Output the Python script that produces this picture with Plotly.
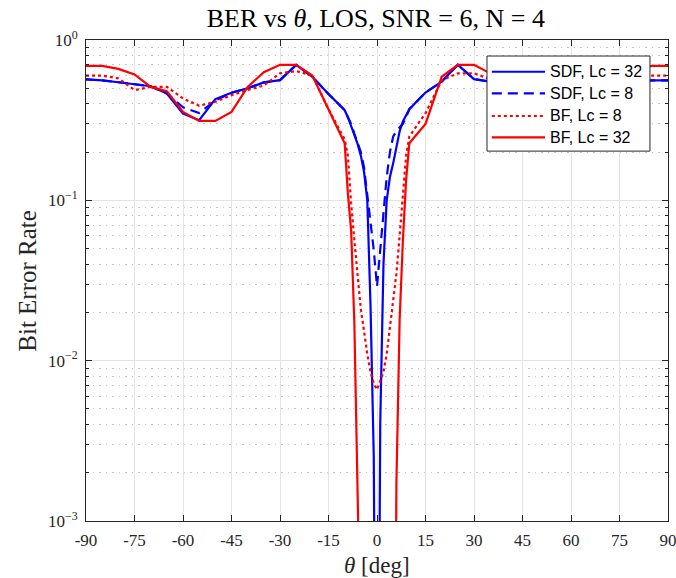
import plotly.graph_objects as go

# angle grid (deg): 5-deg steps away from broadside, 1-deg steps near 0
theta = [-90, -85, -80, -75, -70, -65, -60, -55, -50, -45, -40, -35, -30, -25, -20, -15,
         -10, -9, -8, -7, -6, -5, -4, -3, -2, -1, 0, 1, 2, 3, 4, 5, 6, 7, 8, 9, 10,
         15, 20, 25, 30, 35, 40, 45, 50, 55, 60, 65, 70, 75, 80, 85, 90]

sdf_lc32 = [0.568, 0.56, 0.545, 0.53, 0.515, 0.464, 0.348, 0.316, 0.428, 0.469, 0.50, 0.544, 0.562, 0.70, 0.59, 0.46,
            0.365, 0.33, 0.29, 0.26, 0.225, 0.19, 0.15, 0.10, 0.022, 0.0025, 1e-6, 0.004, 0.04, 0.10, 0.14, 0.17, 0.22, 0.27, 0.31, 0.34, 0.37,
            0.47, 0.55, 0.70, 0.57, 0.55, 0.53, 0.47, 0.43, 0.32, 0.35, 0.46, 0.52, 0.53, 0.55, 0.56, 0.56]

sdf_lc8 = [0.568, 0.56, 0.545, 0.53, 0.515, 0.464, 0.38, 0.35, 0.42, 0.469, 0.50, 0.544, 0.562, 0.70, 0.59, 0.46,
           0.365, 0.33, 0.30, 0.26, 0.23, 0.20, 0.16, 0.11, 0.075, 0.049, 0.029, 0.048, 0.08, 0.14, 0.20, 0.25, 0.27, 0.285, 0.30, 0.33, 0.37,
           0.47, 0.55, 0.70, 0.57, 0.55, 0.53, 0.47, 0.43, 0.33, 0.36, 0.46, 0.52, 0.53, 0.55, 0.56, 0.56]

bf_lc8 = [0.60, 0.60, 0.576, 0.487, 0.51, 0.51, 0.432, 0.389, 0.412, 0.453, 0.487, 0.52, 0.62, 0.64, 0.60, 0.37,
          0.24, 0.19, 0.095, 0.055, 0.034, 0.021, 0.015, 0.011, 0.0085, 0.0072, 0.0066, 0.0074, 0.0085, 0.011, 0.016, 0.023, 0.035, 0.06, 0.11, 0.19, 0.25,
          0.35, 0.56, 0.62, 0.62, 0.57, 0.50, 0.45, 0.41, 0.39, 0.43, 0.51, 0.51, 0.49, 0.57, 0.60, 0.60]

bf_lc32 = [0.69, 0.69, 0.66, 0.61, 0.51, 0.48, 0.356, 0.313, 0.313, 0.356, 0.51, 0.63, 0.70, 0.70, 0.60, 0.37,
           0.227, 0.11, 0.065, 0.017, 0.0013, 1e-6, 1e-6, 1e-6, 1e-6, 1e-6, 1e-6, 1e-6, 1e-6, 1e-6, 1e-6, 1e-6, 0.0017, 0.018, 0.056, 0.134, 0.227,
           0.30, 0.59, 0.70, 0.70, 0.62, 0.50, 0.36, 0.31, 0.31, 0.36, 0.48, 0.51, 0.61, 0.66, 0.69, 0.69]

x_ticks = [-90, -75, -60, -45, -30, -15, 0, 15, 30, 45, 60, 75, 90]
y_ticks = [1e-3, 1e-2, 1e-1, 1]
y_ticktext = ["10<sup>−3</sup>", "10<sup>−2</sup>", "10<sup>−1</sup>", "10<sup>0</sup>"]
y_minor = [k * 10 ** d for d in (-3, -2, -1) for k in range(2, 10)]

series_names = ["SDF, Lc = 32", "SDF, Lc = 8", "BF, Lc = 8", "BF, Lc = 32"]
series_vals = [sdf_lc32, sdf_lc8, bf_lc8, bf_lc32]
series_colors = ["#0000ff", "#0000ff", "#ff0000", "#ff0000"]
series_dash = ["solid", "10px,6px", "dot", "solid"]

LW = 2.2
fig = go.Figure()
for name, vals, color, dash in zip(series_names, series_vals, series_colors, series_dash):
    fig.add_trace(go.Scatter(x=theta, y=vals, mode="lines", name=name, showlegend=False,
                             line=dict(color=color, width=LW, dash=dash)))

serif = "Liberation Serif"
axcol = "#262626"
axis_common = dict(showline=True, linecolor=axcol, linewidth=1, mirror="allticks",
                   ticks="inside", tickcolor=axcol, ticklen=6, automargin=False,
                   showgrid=True, gridcolor="#e4e4e4", gridwidth=1, zeroline=False,
                   ticklabeloverflow="allow",
                   tickfont=dict(family=serif, size=17, color=axcol))

fig.update_xaxes(range=[-90, 90], tickmode="array", tickvals=x_ticks,
                 ticktext=[str(v) for v in x_ticks], ticklabelstandoff=4, **axis_common)
fig.update_yaxes(type="log", range=[-3, 0], tickmode="array", tickvals=y_ticks, ticktext=y_ticktext,
                 ticklabelstandoff=4,
                 minor=dict(tickmode="array", tickvals=y_minor, ticks="inside", ticklen=3,
                            tickcolor=axcol, showgrid=True, gridcolor="#c4c4c4", griddash="1.5px,5px", gridwidth=1),
                 **axis_common)

# manual MATLAB-style legend (paper coordinates)
L_x0, L_x1, L_y0, L_y1 = 0.689, 0.969, 0.769, 0.9667
row_y = [0.934, 0.889, 0.842, 0.7977]
line_x0, line_x1, text_x = 0.6973, 0.7887, 0.7938

shapes = [dict(type="rect", xref="paper", yref="paper", x0=L_x0, x1=L_x1, y0=L_y0, y1=L_y1,
               line=dict(color="#262626", width=1), fillcolor="white", layer="above")]
annotations = []
for name, color, dash, ry in zip(series_names, series_colors, series_dash, row_y):
    shapes.append(dict(type="line", xref="paper", yref="paper", x0=line_x0, x1=line_x1, y0=ry, y1=ry,
                       line=dict(color=color, width=LW, dash=dash), layer="above"))
    annotations.append(dict(xref="paper", yref="paper", x=text_x, y=ry, text=name, showarrow=False,
                            xanchor="left", yanchor="middle",
                            font=dict(family="Liberation Sans", size=16, color="#000000")))

annotations.append(dict(xref="paper", yref="paper", x=0.5, y=-0.092, text="<i>θ</i> [deg]", showarrow=False,
                        xanchor="center", yanchor="middle", font=dict(family=serif, size=23, color=axcol)))
annotations.append(dict(xref="paper", yref="paper", x=-0.101, y=0.5, text="Bit Error Rate", showarrow=False,
                        textangle=-90, xanchor="center", yanchor="middle", font=dict(family=serif, size=25, color=axcol)))

fig.update_layout(
    width=676, height=578,
    margin=dict(l=86, r=8, t=40, b=57, autoexpand=False),
    paper_bgcolor="white", plot_bgcolor="white",
    title=dict(text="BER vs <i>θ</i>, LOS, SNR = 6, N = 4", x=0.556, xanchor="center",
               y=1 - 18 / 578, yanchor="middle", font=dict(family=serif, size=26, color="#000000")),
    shapes=shapes, annotations=annotations, showlegend=False,
)

fig.write_html("out.html", config={"displayModeBar": False})

# remove the browser's default page margin so the figure sits at the window origin
with open("out.html", "r", encoding="utf-8") as f:
    html = f.read()
html = html.replace("<head>", "<head><style>html,body{margin:0;padding:0;overflow:hidden;}</style>", 1)
with open("out.html", "w", encoding="utf-8") as f:
    f.write(html)
